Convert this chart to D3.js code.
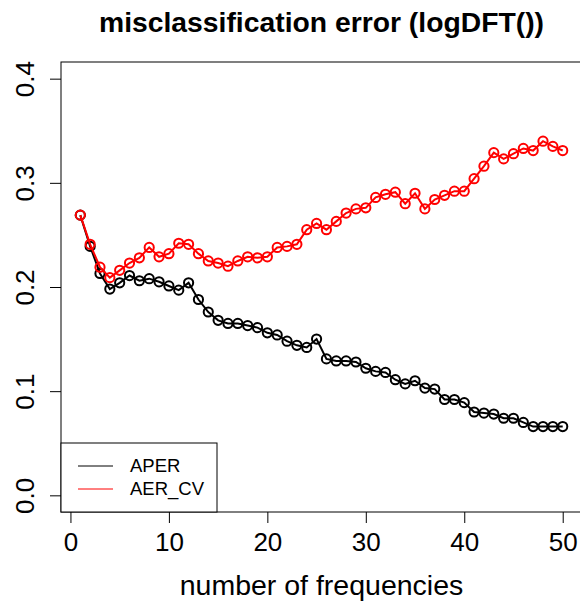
<!DOCTYPE html>
<html><head><meta charset="utf-8">
<script src="https://cdn.jsdelivr.net/npm/d3@7"></script>
<style>body{margin:0;background:#fff}svg{display:block}text{font-family:"Liberation Sans",Arial,sans-serif}</style>
</head><body>
<script>
const freqs = [1,2,3,4,5,6,7,8,9,10,11,12,13,14,15,16,17,18,19,20,21,22,23,24,25,26,27,28,29,30,31,32,33,34,35,36,37,38,39,40,41,42,43,44,45,46,47,48,49,50];
const aper = [0.269,0.239,0.213,0.198,0.204,0.211,0.206,0.208,0.205,0.201,0.197,0.204,0.188,0.176,0.168,0.165,0.165,0.163,0.161,0.156,0.154,0.148,0.144,0.142,0.150,0.131,0.129,0.129,0.128,0.122,0.119,0.118,0.111,0.107,0.110,0.103,0.102,0.092,0.092,0.089,0.080,0.079,0.078,0.074,0.074,0.070,0.066,0.066,0.066,0.066];
const aerCV = [0.269,0.241,0.219,0.209,0.216,0.223,0.228,0.238,0.229,0.232,0.242,0.241,0.232,0.225,0.223,0.220,0.225,0.229,0.228,0.229,0.238,0.239,0.241,0.255,0.261,0.255,0.263,0.271,0.275,0.276,0.286,0.289,0.291,0.280,0.290,0.275,0.284,0.288,0.292,0.292,0.304,0.316,0.329,0.323,0.328,0.333,0.331,0.340,0.335,0.331];
const xTicks = [0,10,20,30,40,50];
const yTicks = [0.0,0.1,0.2,0.3,0.4];
const seriesNames = ["APER","AER_CV"];
const seriesColors = ["#000000","#ff0000"];
const title = "misclassification error (logDFT())";
const xLabel = "number of frequencies";

const W=580,H=607;
const L=61,R=582,T=62,B=512;
const svg=d3.select("body").append("svg").attr("width",W).attr("height",H);
const x=d3.scaleLinear().domain([1-0.04*49,50+0.04*49]).range([L,R]);
const y=d3.scaleLinear().domain([-0.016,0.416]).range([B,T]);

// title
svg.append("text").attr("x",(L+R)/2).attr("y",32).attr("text-anchor","middle")
  .attr("font-size",28.3).attr("font-weight","bold").text(title);

// axes
const xa=svg.append("g").attr("transform",`translate(0,${B})`)
  .call(d3.axisBottom(x).tickValues(xTicks).tickFormat(d3.format("d")).tickSizeOuter(0).tickSize(11).tickPadding(10));
xa.select(".domain").remove();
xa.selectAll("text").attr("font-size",26).attr("fill","#000").attr("font-family","Liberation Sans, Arial, sans-serif");
xa.selectAll("line").attr("stroke","#000");

const ya=svg.append("g").attr("transform",`translate(${L},0)`)
  .call(d3.axisLeft(y).tickValues(yTicks).tickFormat(d3.format(".1f")).tickSizeOuter(0).tickSize(11));
ya.select(".domain").remove();
ya.selectAll("line").attr("stroke","#000");
ya.selectAll("text").remove();
ya.selectAll(".tick").append("text")
  .attr("transform","translate(-27,0) rotate(-90)")
  .attr("text-anchor","middle").attr("dy","0em")
  .attr("font-size",26).attr("fill","#000").text(d=>d3.format(".1f")(d));

// box
svg.append("rect").attr("x",L).attr("y",T).attr("width",R-L).attr("height",B-T)
  .attr("fill","none").attr("stroke","#000").attr("stroke-width",1);

// x label
svg.append("text").attr("x",(L+R)/2).attr("y",595).attr("text-anchor","middle")
  .attr("font-size",28.5).text(xLabel);

const series=[aper,aerCV];
const line=d3.line().x((d,i)=>x(freqs[i])).y(d=>y(d));
series.forEach((s,k)=>{
  const g=svg.append("g");
  g.append("path").datum(s).attr("d",line).attr("fill","none")
    .attr("stroke",seriesColors[k]).attr("stroke-width",2);
  g.selectAll("circle").data(s).join("circle")
    .attr("cx",(d,i)=>x(freqs[i])).attr("cy",d=>y(d)).attr("r",4.6)
    .attr("fill","none").attr("stroke",seriesColors[k]).attr("stroke-width",2);
});

// legend
const lg=svg.append("g");
lg.append("rect").attr("x",L).attr("y",443).attr("width",156).attr("height",B-443)
  .attr("fill","#fff").attr("stroke","#000").attr("stroke-width",1);
seriesNames.forEach((n,k)=>{
  const yy=466+k*23;
  lg.append("line").attr("x1",78).attr("x2",113).attr("y1",yy).attr("y2",yy)
    .attr("stroke",seriesColors[k]).attr("stroke-width",1);
  lg.append("text").attr("x",130).attr("y",yy).attr("dy","0.35em")
    .attr("font-size",18.5).text(n);
});
</script>
</body></html>
